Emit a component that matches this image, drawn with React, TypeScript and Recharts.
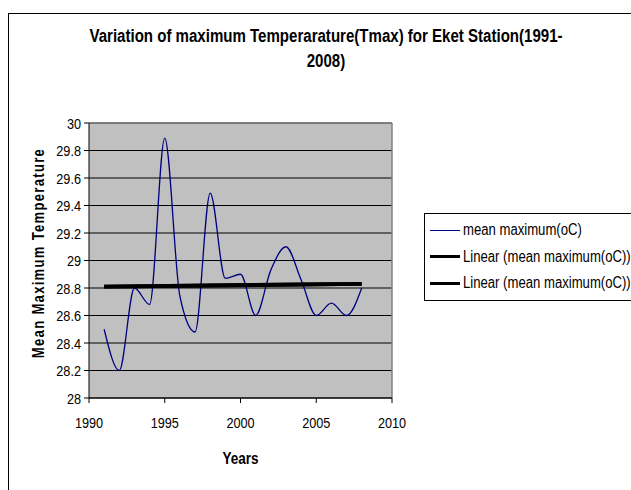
import {
  LineChart,
  Line,
  XAxis,
  YAxis,
  CartesianGrid,
  Legend,
  ReferenceLine,
  Label,
} from "recharts";

const years = [
  1991, 1992, 1993, 1994, 1995, 1996, 1997, 1998, 1999, 2000, 2001, 2002,
  2003, 2004, 2005, 2006, 2007, 2008,
];
const meanMax = [
  28.5, 28.2, 28.8, 28.68, 29.89, 28.74, 28.48, 29.49, 28.87, 28.9, 28.6,
  28.93, 29.1, 28.86, 28.6, 28.69, 28.6, 28.8,
];
// Excel linear trend end points
const trendYears = [1991, 2008];
const trendValues = [28.81, 28.83];

const xTicks = [1990, 1995, 2000, 2005, 2010];
const yTicks = [28, 28.2, 28.4, 28.6, 28.8, 29, 29.2, 29.4, 29.6, 29.8, 30];

const chartData = years.map((year, i) => {
  const t = trendYears.indexOf(year);
  return {
    year,
    tmax: meanMax[i],
    trend: t >= 0 ? trendValues[t] : null,
  };
});

const font = '"Liberation Sans", Arial, sans-serif';
// the original uses a narrow Arial; squeeze Liberation Sans to match
const narrow = 0.82;

function XTick(props: any) {
  const { x, y, payload } = props;
  return (
    <text
      transform={`translate(${x},${y}) scale(${narrow},1)`}
      textAnchor="middle"
      dy="0.71em"
      fontFamily={font}
      fontSize={15.5}
      fill="#000"
    >
      {payload.value}
    </text>
  );
}

function YTick(props: any) {
  const { x, y, payload } = props;
  return (
    <text
      transform={`translate(${x},${y}) scale(${narrow},1)`}
      textAnchor="end"
      dy="0.355em"
      fontFamily={font}
      fontSize={15.5}
      fill="#000"
    >
      {payload.value}
    </text>
  );
}

function LegendBox(props: any) {
  // keep series order (tmax first), recharts sorts by name otherwise
  const items = [...(props.payload || [])].sort(
    (a: any, b: any) =>
      (a.dataKey === "tmax" ? -1 : 0) - (b.dataKey === "tmax" ? -1 : 0)
  );
  return (
    <div
      style={{
        border: "1px solid #000",
        background: "#fff",
        width: 240,
        padding: "3px 0 3px 5px",
        fontFamily: font,
        fontSize: 16,
        color: "#000",
      }}
    >
      {items.map((p: any, i: number) => (
        <div
          key={i}
          style={{
            display: "flex",
            alignItems: "center",
            height: 26.5,
            whiteSpace: "nowrap",
          }}
        >
          <span
            style={{
              display: "inline-block",
              width: 30,
              marginRight: 3,
              borderTop: `${p.dataKey === "tmax" ? 1 : 3}px solid ${p.color}`,
            }}
          />
          <span
            style={{
              display: "inline-block",
              transform: `scaleX(${narrow})`,
              transformOrigin: "left center",
            }}
          >
            {p.value}
          </span>
        </div>
      ))}
    </div>
  );
}

export default function App() {
  return (
    <div
      style={{
        position: "absolute",
        left: 0,
        top: 0,
        width: 631,
        height: 490,
        overflow: "hidden",
        background: "#fff",
        fontFamily: font,
      }}
    >
      <div
        style={{
          position: "absolute",
          left: 8,
          top: 13,
          width: 700,
          height: 600,
          borderLeft: "1px solid #000",
          borderTop: "1px solid #000",
        }}
      />
      <div
        style={{
          position: "absolute",
          left: 0,
          top: 24,
          width: 652,
          textAlign: "center",
          fontWeight: "bold",
          fontSize: 17.5,
          lineHeight: "25px",
          transform: "scaleX(0.86)",
          transformOrigin: "326px 0",
          whiteSpace: "nowrap",
        }}
      >
        Variation of maximum Temperarature(Tmax) for Eket Station(1991-
        <br />
        2008)
      </div>
      <div style={{ position: "absolute", left: 0, top: 0 }}>
        <LineChart
          width={631}
          height={490}
          data={chartData}
          margin={{ top: 123, right: 239, bottom: 0, left: 0 }}
        >
          <CartesianGrid
            vertical={false}
            stroke="#000"
            fill="#c0c0c0"
            fillOpacity={1}
          />
          <XAxis
            dataKey="year"
            type="number"
            domain={[1990, 2010]}
            ticks={xTicks}
            height={92}
            stroke="#000"
            tickSize={5}
            tickMargin={14}
            tick={<XTick />}
          >
            <Label
              content={(lp: any) => {
                const vb = lp.viewBox;
                const cx = vb.x + vb.width / 2;
                const by = vb.y + vb.height - 26;
                return (
                  <text
                    transform={`translate(${cx},${by}) scale(${narrow},1)`}
                    textAnchor="middle"
                    fontFamily={font}
                    fontSize={16.5}
                    fontWeight="bold"
                    fill="#000"
                  >
                    Years
                  </text>
                );
              }}
            />
          </XAxis>
          <YAxis
            type="number"
            domain={[28, 30]}
            ticks={yTicks}
            width={89}
            stroke="#000"
            tickSize={5}
            tickMargin={3}
            interval={0}
            tick={<YTick />}
          >
            <Label
              content={() => (
                <text
                  transform={`translate(44,253) rotate(-90) scale(${narrow},1)`}
                  textAnchor="middle"
                  fontFamily={font}
                  fontSize={16}
                  fontWeight="bold"
                  letterSpacing={1.55}
                  fill="#000"
                >
                  Mean Maximum Temperature
                </text>
              )}
            />
          </YAxis>
          <ReferenceLine y={30} stroke="#808080" strokeWidth={1.5} />
          <ReferenceLine x={2010} stroke="#808080" strokeWidth={1.5} />
          <Line
            type="monotone"
            dataKey="tmax"
            name="mean maximum(oC)"
            stroke="#000080"
            strokeWidth={1.3}
            dot={false}
            isAnimationActive={false}
          />
          <Line
            type="linear"
            dataKey="trend"
            name="Linear (mean maximum(oC))"
            stroke="#000"
            strokeWidth={4}
            dot={false}
            connectNulls
            isAnimationActive={false}
          />
          <Line
            type="linear"
            dataKey="trend"
            name="Linear (mean maximum(oC))"
            stroke="#000"
            strokeWidth={4}
            dot={false}
            connectNulls
            isAnimationActive={false}
          />
          <Legend
            layout="horizontal"
            verticalAlign="middle"
            align="center"
            content={LegendBox}
            wrapperStyle={{ left: 424, top: 213, width: "auto", height: "auto" }}
          />
        </LineChart>
      </div>
    </div>
  );
}
